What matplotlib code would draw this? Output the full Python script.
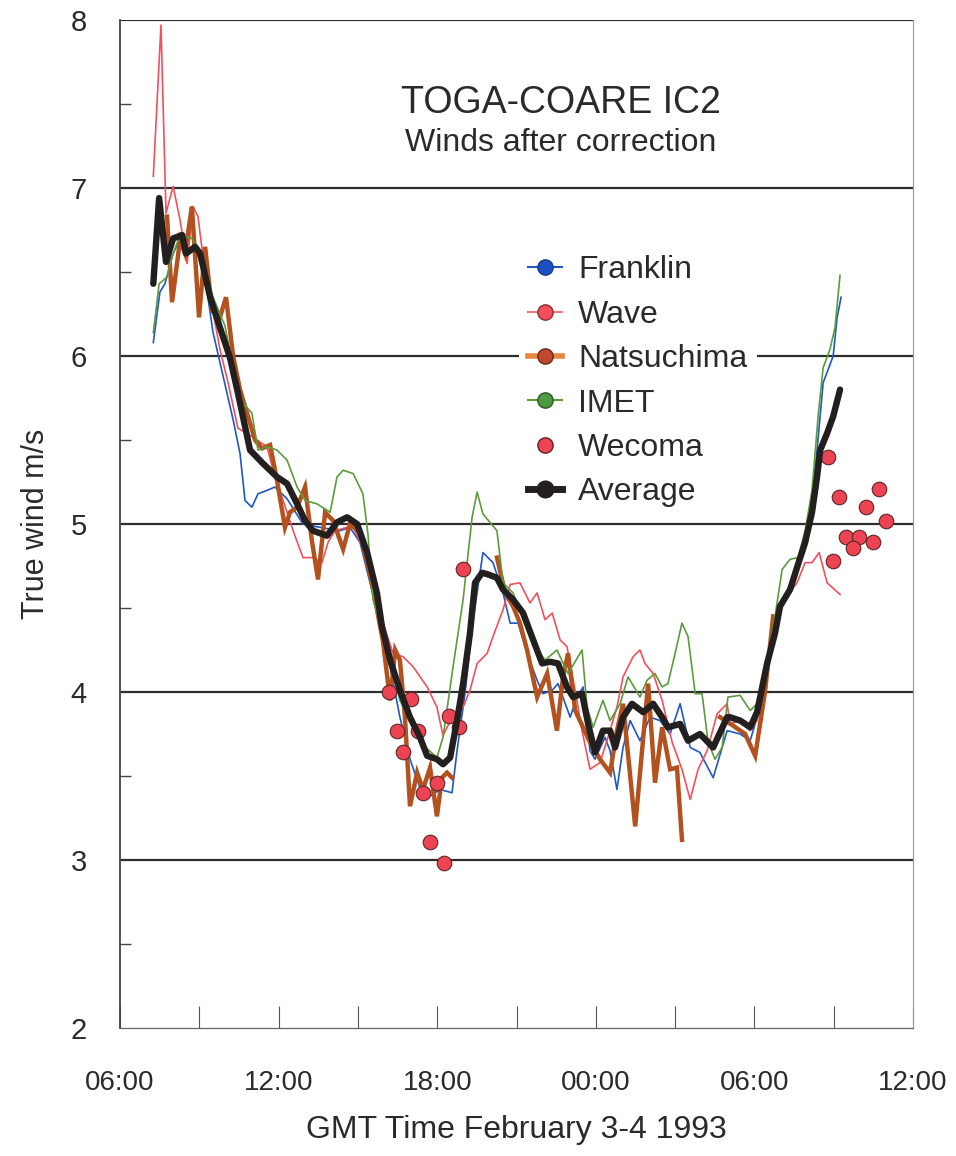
import numpy as np
import matplotlib
matplotlib.use('Agg')
import matplotlib.pyplot as plt
from matplotlib.lines import Line2D

plt.rcParams['font.family'] = ['Liberation Sans', 'DejaVu Sans']

# time axis in hours from 00:00 Feb 3 (GMT)
franklin_t = [7.26, 7.51, 7.70, 8.01, 8.19, 8.46, 8.84, 9.14, 9.52, 9.90, 10.28, 10.54, 10.73, 10.99,
              11.22, 11.56, 11.86, 12.32, 12.92, 13.57, 14.32, 14.70, 15.08, 15.46, 15.84, 16.22, 16.59,
              16.97, 17.35, 17.73, 18.11, 18.56, 18.75, 19.05, 19.36, 19.73, 20.11, 20.49, 20.76, 21.06,
              21.40, 21.78, 22.00, 22.35, 22.57, 23.03, 23.29, 23.52, 23.78, 23.97, 24.35, 24.54, 24.80,
              25.03, 25.30, 25.67, 26.05, 26.43, 26.81, 27.19, 27.57, 27.94, 28.44, 28.97, 29.46, 29.84,
              30.10, 30.48, 30.86, 31.24, 31.46, 31.80, 32.11, 32.37, 32.60, 32.98, 33.13, 33.28]
franklin_v = [6.08, 6.38, 6.43, 6.61, 6.67, 6.63, 6.62, 6.55, 6.14, 5.88, 5.62, 5.42, 5.14, 5.10,
              5.18, 5.20, 5.22, 5.15, 5.00, 4.98, 4.96, 4.98, 4.89, 4.65, 4.41, 4.15, 3.85,
              3.60, 3.43, 3.38, 3.42, 3.40, 3.65, 3.99, 4.43, 4.83, 4.77, 4.59, 4.41, 4.41,
              4.23, 4.07, 3.99, 4.01, 4.05, 3.85, 3.97, 4.03, 3.65, 3.60, 3.73, 3.65, 3.42,
              3.67, 3.83, 3.71, 3.85, 3.83, 3.75, 3.93, 3.67, 3.64, 3.49, 3.77, 3.75, 3.71,
              3.85, 4.15, 4.45, 4.57, 4.63, 4.85, 5.04, 5.44, 5.84, 6.00, 6.23, 6.35]

wave_t = [7.26, 7.55, 7.74, 8.01, 8.27, 8.54, 8.76, 8.95, 9.14, 9.48, 9.78, 10.09, 10.46, 10.81,
          11.18, 11.56, 11.86, 12.17, 12.55, 12.92, 13.30, 13.64, 13.87, 14.13, 14.59, 14.82, 15.19,
          15.57, 15.95, 16.33, 16.71, 17.09, 17.62, 17.99, 18.22, 18.56, 18.98, 19.24, 19.51, 19.89,
          20.11, 20.49, 20.76, 21.13, 21.51, 21.78, 22.08, 22.35, 22.65, 22.91, 23.22, 23.48, 23.78,
          24.16, 24.46, 24.80, 25.03, 25.41, 25.67, 25.86, 26.17, 26.51, 26.89, 27.26, 27.57, 27.87,
          28.21, 28.59, 28.97, 29.08, 29.46, 29.84, 30.10, 30.48, 30.86, 31.24, 31.61, 31.92, 32.18,
          32.45, 32.75, 33.24]
wave_v = [7.07, 7.97, 6.85, 7.01, 6.81, 6.55, 6.89, 6.83, 6.59, 6.30, 6.04, 5.84, 5.57, 5.54,
          5.50, 5.46, 5.28, 5.14, 4.96, 4.80, 4.80, 4.77, 4.89, 4.96, 4.98, 4.98, 4.86,
          4.63, 4.41, 4.23, 4.21, 4.15, 4.03, 3.91, 3.74, 3.85, 3.91, 4.01, 4.17, 4.23,
          4.33, 4.49, 4.64, 4.65, 4.53, 4.59, 4.43, 4.47, 4.31, 4.27, 4.01, 3.77, 3.54,
          3.58, 3.73, 3.91, 4.09, 4.21, 4.25, 4.17, 4.11, 3.95, 3.70, 3.54, 3.36, 3.54,
          3.65, 3.87, 3.93, 3.81, 3.83, 3.77, 3.83, 4.15, 4.45, 4.57, 4.65, 4.77, 4.77,
          4.83, 4.65, 4.58]

natsu_t = [7.78, 7.97, 8.27, 8.46, 8.72, 8.99, 9.22, 9.48, 9.78, 10.01, 10.28, 10.54, 11.11, 11.37,
           11.68, 11.94, 12.24, 12.43, 12.70, 13.00, 13.26, 13.49, 13.76, 14.06, 14.44, 14.70, 15.08,
           15.53, 15.95, 16.22, 16.41, 16.59, 16.78, 16.97, 17.24, 17.46, 17.73, 17.99, 18.18, 18.37,
           18.56, 19.40, 20.26, 20.57, 20.87, 21.13, 21.40, 21.78, 22.16, 22.53, 22.76, 22.95, 23.22,
           23.78, 24.16, 24.54, 24.80, 25.03, 25.49, 25.98, 26.24, 26.51, 26.81, 27.07, 27.26, 28.00,
           28.70, 29.19, 29.65, 30.03, 30.40, 30.71]
natsu_v = [6.83, 6.32, 6.69, 6.61, 6.89, 6.23, 6.65, 6.27, 6.23, 6.35, 6.00, 5.80, 5.50, 5.45,
           5.47, 5.26, 4.98, 5.07, 5.10, 5.22, 4.90, 4.67, 5.07, 5.02, 4.85, 5.00, 4.95,
           4.65, 4.30, 3.95, 4.25, 4.19, 3.85, 3.32, 3.52, 3.42, 3.55, 3.26, 3.49, 3.52,
           3.49, np.nan, 4.80, 4.59, 4.51, 4.41, 4.25, 3.97, 4.11, 3.77, 4.09, 4.23, 3.89,
           3.70, 3.60, 3.52, 3.77, 3.93, 3.20, 4.05, 3.46, 3.79, 3.54, 3.55, 3.12, np.nan,
           3.85, 3.80, 3.75, 3.62, 4.00, 4.45]

imet_t = [7.26, 7.48, 7.78, 7.97, 8.27, 8.72, 9.03, 9.52, 9.97, 10.28, 10.65, 10.99, 11.22, 11.56,
          11.94, 12.32, 12.70, 13.00, 13.45, 13.95, 14.21, 14.44, 14.82, 15.19, 15.38, 15.57, 15.95,
          16.59, 17.35, 17.99, 18.22, 18.60, 18.98, 19.32, 19.51, 19.73, 20.26, 20.49, 20.87, 21.25,
          21.63, 22.08, 22.53, 22.95, 23.48, 23.67, 23.90, 24.27, 24.54, 24.92, 25.22, 25.67, 25.94,
          26.24, 26.51, 26.73, 27.00, 27.26, 27.49, 27.76, 28.02, 28.25, 28.51, 28.78, 29.00, 29.46,
          29.84, 30.10, 30.48, 30.78, 31.05, 31.35, 31.65, 31.92, 32.18, 32.41, 32.60, 32.86, 33.05,
          33.24]
imet_v = [6.14, 6.43, 6.47, 6.59, 6.72, 6.70, 6.61, 6.35, 6.18, 5.93, 5.72, 5.66, 5.44, 5.46,
          5.44, 5.38, 5.22, 5.14, 5.12, 5.07, 5.28, 5.32, 5.30, 5.18, 4.94, 4.55, 4.35,
          3.95, 3.70, 3.61, 3.73, 4.15, 4.55, 5.04, 5.19, 5.06, 4.96, 4.65, 4.59, 4.43,
          4.29, 4.19, 4.25, 4.11, 4.25, 3.91, 3.79, 3.95, 3.83, 3.93, 4.09, 3.97, 4.07,
          4.11, 4.03, 4.05, 4.23, 4.41, 4.33, 3.99, 3.99, 3.70, 3.60, 3.67, 3.97, 3.98,
          3.89, 3.93, 4.19, 4.45, 4.73, 4.79, 4.80, 4.96, 5.20, 5.64, 5.93, 6.04, 6.17,
          6.48]

wecoma_t = [16.18, 17.01, 16.48, 17.28, 16.71, 18.45, 18.83, 17.46, 17.99, 17.73, 18.26, 18.98,
            32.79, 33.20, 34.72, 34.23, 34.98, 33.47, 33.96, 34.49, 33.73, 32.98]
wecoma_v = [4.00, 3.96, 3.77, 3.77, 3.64, 3.86, 3.79, 3.40, 3.46, 3.11, 2.98, 4.73,
            5.40, 5.16, 5.21, 5.10, 5.02, 4.92, 4.92, 4.89, 4.86, 4.78]

avg_t = [7.26, 7.48, 7.74, 8.01, 8.35, 8.50, 8.84, 9.03, 9.41, 9.78, 10.16, 10.46, 10.92, 11.41,
         11.94, 12.32, 12.70, 13.00, 13.30, 13.83, 14.21, 14.59, 14.97, 15.35, 15.72, 15.91, 16.22,
         16.59, 16.97, 17.35, 17.62, 17.99, 18.22, 18.49, 18.75, 18.98, 19.24, 19.43, 19.70, 19.92,
         20.26, 20.49, 20.87, 21.25, 21.63, 21.97, 22.27, 22.57, 22.91, 23.14, 23.48, 23.71, 23.97,
         24.27, 24.54, 24.73, 25.03, 25.37, 25.79, 26.17, 26.51, 26.73, 27.19, 27.49, 27.94, 28.44,
         28.97, 29.08, 29.46, 29.84, 30.10, 30.48, 30.78, 30.97, 31.35, 31.61, 31.92, 32.18, 32.37,
         32.49, 32.75, 32.98, 33.24]
avg_v = [6.43, 6.94, 6.56, 6.70, 6.72, 6.61, 6.65, 6.61, 6.35, 6.17, 5.99, 5.78, 5.44, 5.36,
         5.28, 5.24, 5.12, 5.02, 4.96, 4.93, 5.01, 5.04, 5.00, 4.83, 4.59, 4.39, 4.19,
         4.01, 3.85, 3.73, 3.62, 3.60, 3.57, 3.61, 3.83, 4.05, 4.35, 4.65, 4.71, 4.70,
         4.68, 4.61, 4.55, 4.47, 4.31, 4.17, 4.18, 4.17, 4.03, 3.97, 3.99, 3.81, 3.64,
         3.77, 3.77, 3.67, 3.85, 3.93, 3.88, 3.93, 3.85, 3.79, 3.81, 3.71, 3.75, 3.67,
         3.85, 3.85, 3.83, 3.79, 3.88, 4.17, 4.35, 4.51, 4.61, 4.74, 4.89, 5.07, 5.28,
         5.44, 5.54, 5.64, 5.80]

tick_hours = [6, 12, 18, 24, 30, 36]
tick_labels = ['06:00', '12:00', '18:00', '00:00', '06:00', '12:00']
grid_levels = [3, 4, 5, 6, 7, 8]

c_franklin = '#1f58c4'
c_wave = '#f2505c'
c_natsu = '#b4521f'
c_imet = '#5c9b3c'
c_wecoma = '#ee4352'
c_avg = '#241f1f'
txt = '#2a2a2a'

fig = plt.figure(figsize=(9.56, 11.56), dpi=100)
ax = fig.add_axes([120 / 956, 1 - 1028 / 1156, 793 / 956, 1008 / 1156])

for g in grid_levels:
    ax.axhline(g, color='#2e2e2e', lw=1.6, zorder=1)

ax.plot(franklin_t, franklin_v, color=c_franklin, lw=1.2, zorder=3)
ax.plot(wave_t, wave_v, color=c_wave, lw=1.2, zorder=3)
ax.plot(natsu_t, natsu_v, color=c_natsu, lw=3.2, zorder=4, solid_joinstyle='miter')
ax.plot(imet_t, imet_v, color=c_imet, lw=1.2, zorder=4)
ax.scatter(wecoma_t, wecoma_v, s=110, color=c_wecoma, edgecolor='#5a2626', linewidth=0.8, zorder=5)
ax.plot(avg_t, avg_v, color=c_avg, lw=4.6, zorder=6, solid_capstyle='round', solid_joinstyle='round')

ax.set_xlim(6, 36)
ax.set_ylim(2, 8)
ax.set_xticks(tick_hours)
ax.set_xticklabels(tick_labels)
ax.set_xticks([9, 15, 21, 27, 33], minor=True)
ax.set_yticks(range(2, 9))
ax.set_yticks(np.arange(2.5, 8, 1.0), minor=True)

ax.tick_params(axis='x', which='both', direction='in', length=16, width=0.8, color='#555555',
               labelsize=20, labelcolor=txt, pad=30)
ax.tick_params(axis='y', which='major', length=0, labelsize=21, labelcolor=txt, pad=24)
ax.tick_params(axis='y', which='minor', direction='in', length=8, width=1.0, color='#444444')

ax.spines['top'].set_visible(False)
ax.spines['left'].set_color('#444444')
ax.spines['left'].set_linewidth(1.3)
ax.spines['bottom'].set_color('#666666')
ax.spines['bottom'].set_linewidth(0.9)
ax.spines['right'].set_color('#999999')
ax.spines['right'].set_linewidth(0.8)

ax.set_xlabel('GMT Time February 3-4 1993', fontsize=23, color=txt, labelpad=14)
ax.set_ylabel('True wind m/s', fontsize=22, color=txt, labelpad=14)

ax.text(0.556, 0.918, 'TOGA-COARE IC2', transform=ax.transAxes, ha='center', va='center',
        fontsize=27, color=txt)
ax.text(0.556, 0.878, 'Winds after correction', transform=ax.transAxes, ha='center', va='center',
        fontsize=23, color=txt)

handles = [
    Line2D([], [], color=c_franklin, lw=1.5, marker='o', ms=11, mfc='#1a50c0', mec='#1a3c80'),
    Line2D([], [], color='#f47a80', lw=1.5, marker='o', ms=11, mfc=c_wave, mec='#8a3030'),
    Line2D([], [], color='#e8873e', lw=4, marker='o', ms=11, mfc='#c0472f', mec='#6a2a1a'),
    Line2D([], [], color=c_imet, lw=1.5, marker='o', ms=11, mfc='#4e9a40', mec='#2a5a20'),
    Line2D([], [], color='none', marker='o', ms=11, mfc=c_wecoma, mec='#5a2626'),
    Line2D([], [], color=c_avg, lw=5, marker='o', ms=12, mfc=c_avg, mec=c_avg),
]
labels = ['Franklin', 'Wave', 'Natsuchima', 'IMET', 'Wecoma', 'Average']
leg = ax.legend(handles, labels, loc='upper left', bbox_to_anchor=(0.503, 0.776), fontsize=23,
                frameon=True, fancybox=False, framealpha=1, facecolor='white', edgecolor='none',
                handlelength=1.05, handletextpad=0.5, labelspacing=0.45, borderpad=0.3,
                borderaxespad=0)
for t in leg.get_texts():
    t.set_color(txt)
leg.set_zorder(7)

fig.savefig('out.png', dpi=100)
